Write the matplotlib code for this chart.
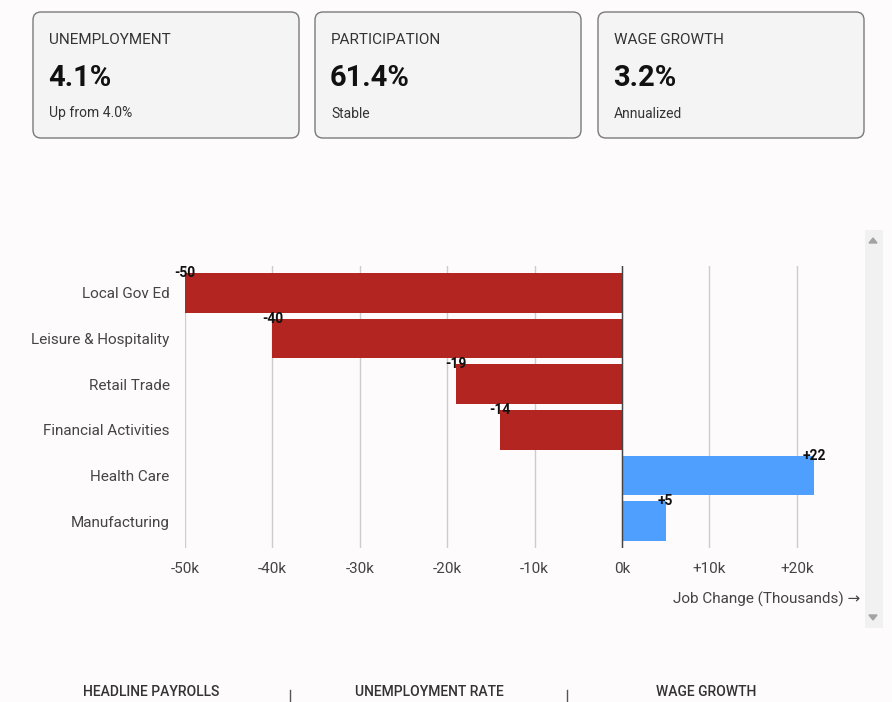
import matplotlib
matplotlib.use("Agg")
import matplotlib.pyplot as plt
from matplotlib.patches import FancyBboxPatch, Rectangle

plt.rcParams['font.family'] = ['Roboto', 'DejaVu Sans']

# data
sectors = ['Local Gov Ed', 'Leisure & Hospitality', 'Retail Trade',
           'Financial Activities', 'Health Care', 'Manufacturing']
job_change = [-50, -40, -19, -14, 22, 5]

card_titles = ['UNEMPLOYMENT', 'PARTICIPATION', 'WAGE GROWTH']
card_values = ['4.1%', '61.4%', '3.2%']
card_notes = ['Up from 4.0%', 'Stable', 'Annualized']

tab_labels = ['HEADLINE PAYROLLS', 'UNEMPLOYMENT RATE', 'WAGE GROWTH']

W, H = 892, 702
bg = '#fdfbfc'
fig = plt.figure(figsize=(W / 100, H / 100), dpi=100, facecolor=bg)

# overlay axes in pixel coords for cards etc.
over = fig.add_axes([0, 0, 1, 1], facecolor='none')
over.set_xlim(0, W)
over.set_ylim(H, 0)
over.axis('off')

card_x = [33, 315, 598]
for x0, t, v, n in zip(card_x, card_titles, card_values, card_notes):
    over.add_patch(FancyBboxPatch((x0, 12), 266, 126,
                                  boxstyle='round,pad=0,rounding_size=8',
                                  facecolor='#f5f4f5', edgecolor='#7a7a7a', lw=1))
    over.text(x0 + 16, 39.5, t, fontsize=11, color='#333333', va='center')
    over.text(x0 + 15, 78, v, fontsize=21, fontweight='bold', color='#111111', va='center')
    over.text(x0 + 16, 113.5, n, fontsize=10, color='#333333', va='center')

# scrollbar
over.add_patch(Rectangle((865, 230), 18, 398, facecolor='#f1f1f1', edgecolor='none'))
over.fill([869, 877, 873], [243, 243, 238], color='#a3a3a3')
over.fill([869, 877, 873], [615, 615, 620], color='#a3a3a3')

# bottom tabs
tab_x = [151, 429, 706]
for x0, lab in zip(tab_x, tab_labels):
    over.text(x0, 692, lab, fontsize=10, fontweight='medium', color='#333333',
              ha='center', va='center')
for xd in [290, 567]:
    over.plot([xd, xd], [690, 702], color='#555555', lw=1)

# chart axes
x_min, x_max = -50, 25
left_px = 185
right_px = 622 + 25 * 8.74
top_px, bot_px = 266, 548
ax = fig.add_axes([left_px / W, 1 - bot_px / H, (right_px - left_px) / W,
                   (bot_px - top_px) / H], facecolor='none')
ypos = list(range(len(sectors)))
colors = ['#b22520' if v < 0 else '#4f9ffe' for v in job_change]
bh = 0.87
ax.barh(ypos, job_change, height=bh, color=colors, zorder=2)
ax.set_xlim(x_min, x_max)
ax.set_ylim(len(sectors) - 0.41, -0.59)
ax.set_xticks([-50, -40, -30, -20, -10, 0, 10, 20])
ax.set_xticklabels(['-50k', '-40k', '-30k', '-20k', '-10k', '0k', '+10k', '+20k'])
ax.set_yticks(ypos)
ax.set_yticklabels(sectors)
ax.tick_params(axis='both', length=0, labelsize=11, labelcolor='#444444')
ax.tick_params(axis='x', pad=10)
ax.tick_params(axis='y', pad=11)
ax.grid(axis='x', color='#cccccc', lw=1, zorder=0)
ax.axvline(0, color='#444444', lw=1, zorder=3)
for s in ax.spines.values():
    s.set_visible(False)

for y, v in zip(ypos, job_change):
    lab = f'{v:+d}'
    ax.text(v, y - bh / 2, lab, ha='center', va='center', fontsize=10,
            fontweight='bold', color='#111111', zorder=4)

ax.set_xlabel('Job Change (Thousands) \u2192', fontsize=11, color='#444444',
              ha='right')
ax.xaxis.set_label_coords((860 - left_px) / (right_px - left_px),
                          -(599 - bot_px) / (bot_px - top_px))
ax.xaxis.label.set_va('center')

fig.savefig('out.png', dpi=100, facecolor=bg)
